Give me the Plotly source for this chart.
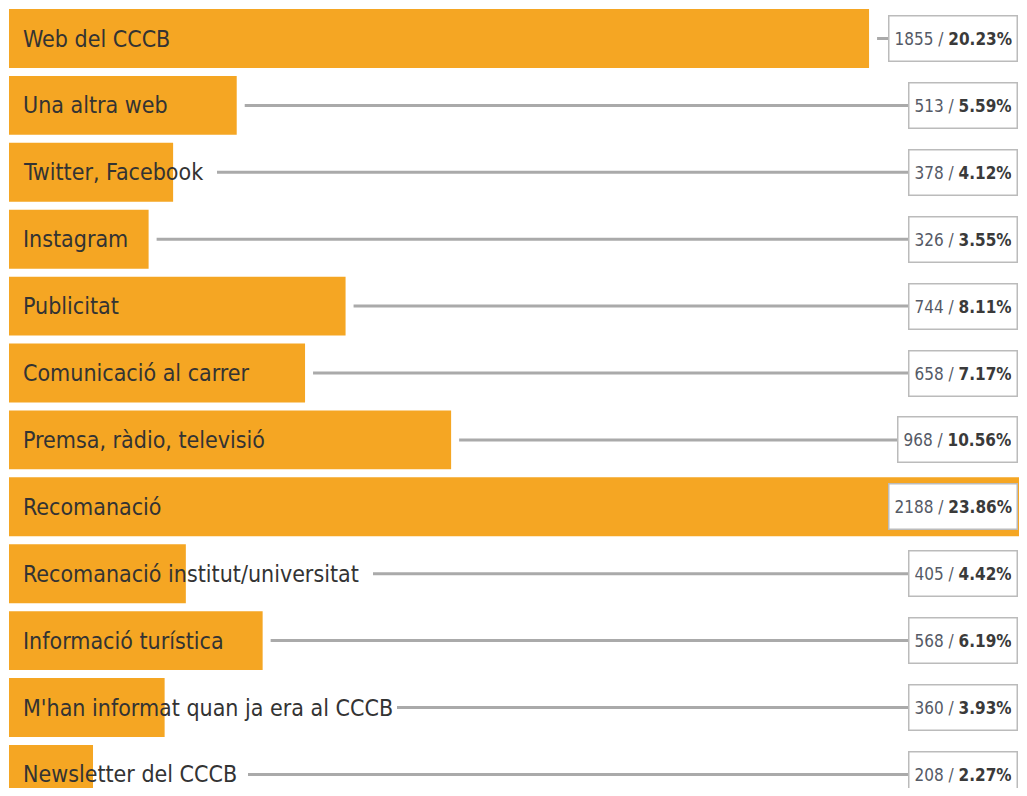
import plotly.graph_objects as go

labels = ["Web del CCCB", "Una altra web", "Twitter, Facebook", "Instagram", "Publicitat",
          "Comunicació al carrer", "Premsa, ràdio, televisió", "Recomanació",
          "Recomanació institut/universitat", "Informació turística",
          "M'han informat quan ja era al CCCB", "Newsletter del CCCB"]
counts = [1855, 513, 378, 326, 744, 658, 968, 2188, 405, 568, 360, 208]
pcts = ["20.23", "5.59", "4.12", "3.55", "8.11", "7.17", "10.56", "23.86", "4.42", "6.19", "3.93", "2.27"]

# style: approximate pixel (page coords) where each label text ends
label_end_px = [168, 170, 209, 131, 121, 253, 269, 163, 365, 229, 389, 240]

PAGE_OFF = 8          # default body margin of the html page
W, H = 1027 - 2 * PAGE_OFF, 796 - 2 * PAGE_OFF
ML = 1
XMIN = 29.7
SCALE = 1018 / (2190.2 - 29.7)    # px per unit
ROW0_PX, ROW_PITCH = 38.5, 66.9   # page px of first row centre, row pitch
BAR_COLOR = "#F5A623"
FONT = "Liberation Sans Narrow, DejaVu Sans Condensed, Roboto, sans-serif"

idx = list(range(len(labels)))

fig = go.Figure(go.Bar(
    x=counts, y=idx, orientation="h", width=0.88,
    marker=dict(color=BAR_COLOR, line=dict(width=0)),
    hoverinfo="skip",
))

plot_w = W - ML
plot_left_page = PAGE_OFF + ML
plot_right_page = plot_left_page + plot_w
XMAX = XMIN + plot_w / SCALE

def val_to_page_px(v):
    return plot_left_page + (v - XMIN) * SCALE

def page_px_to_paper(px):
    return (px - plot_left_page) / plot_w

y_top = (PAGE_OFF - ROW0_PX) / ROW_PITCH
y_bot = (PAGE_OFF + H - ROW0_PX) / ROW_PITCH

shapes = []
annotations = []
for i, (lab, c, p) in enumerate(zip(labels, counts, pcts)):
    annotations.append(dict(
        x=page_px_to_paper(21), xref="paper", y=i, yref="y", xanchor="left", yanchor="middle",
        text=lab, showarrow=False, font=dict(family=FONT, size=23, color="#333333"),
    ))
    start_px = max(val_to_page_px(c), label_end_px[i]) + 8
    if start_px < plot_right_page - 60:
        shapes.append(dict(
            type="line", xref="paper", yref="y",
            x0=page_px_to_paper(start_px), x1=page_px_to_paper(plot_right_page - 30),
            y0=i, y1=i,
            line=dict(color="#AAAAAA", width=3), layer="above",
        ))
    annotations.append(dict(
        x=1.0, xref="paper", y=i, yref="y", xanchor="right", yanchor="middle", xshift=-1,
        text=f"<span style='color:#555a66'>{c} / </span><b>{p}%</b>",
        showarrow=False, font=dict(family=FONT, size=17, color="#3a3a3a"),
        bgcolor="white", bordercolor="#BBBBBB", borderwidth=1.5, borderpad=5, height=34,
    ))

fig.update_layout(
    width=W, height=H,
    margin=dict(l=ML, r=0, t=0, b=0, pad=0),
    paper_bgcolor="white", plot_bgcolor="white",
    showlegend=False,
    xaxis=dict(range=[XMIN, XMAX], visible=False, fixedrange=True),
    yaxis=dict(range=[y_bot, y_top], visible=False, fixedrange=True),
    shapes=shapes, annotations=annotations,
    bargap=0.12,
)

fig.write_html("out.html")
